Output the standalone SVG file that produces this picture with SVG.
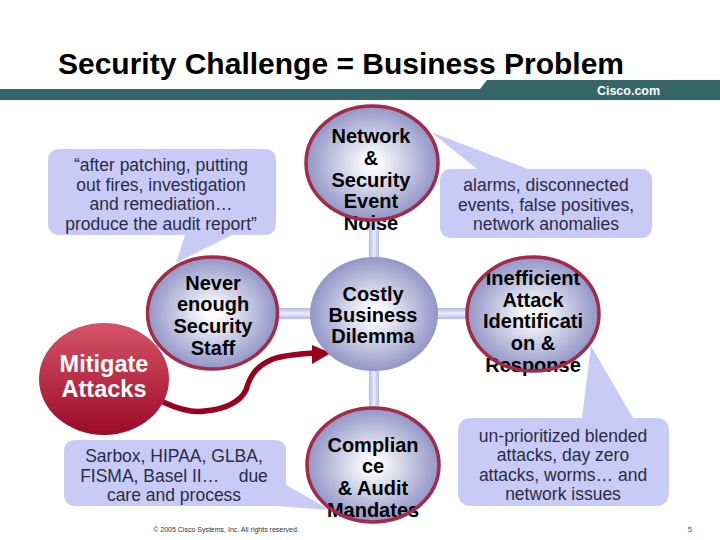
<svg xmlns="http://www.w3.org/2000/svg" width="720" height="540" viewBox="0 0 720 540">
<style>
text{font-family:"Liberation Sans",Arial,sans-serif;text-anchor:middle}
.n{font-size:20px;font-weight:bold;fill:#000}
.c{font-size:17.5px;fill:#2b2b45}
.b{fill:#c8cbf6}
.f{fill:url(#g)}
.r{fill:none;stroke:#a32a4a;stroke-width:3.500}
</style>
<defs>
<radialGradient id="g" cx="50%" cy="50%" r="50%"><stop offset="0.08" stop-color="#ffffff"/><stop offset="1" stop-color="#9196c6"/></radialGradient>
<linearGradient id="m" x1="0" y1="0" x2="0" y2="1"><stop offset="0" stop-color="#d65468"/><stop offset="1" stop-color="#9c0a28"/></linearGradient>
<linearGradient id="h" x1="0" y1="0" x2="0" y2="1"><stop offset="0" stop-color="#b4b8e4"/><stop offset="0.5" stop-color="#eceefc"/><stop offset="1" stop-color="#b4b8e4"/></linearGradient>
<linearGradient id="v" x1="0" y1="0" x2="1" y2="0"><stop offset="0" stop-color="#b4b8e4"/><stop offset="0.5" stop-color="#eceefc"/><stop offset="1" stop-color="#b4b8e4"/></linearGradient>
</defs>
<rect width="720" height="540" fill="#fff"/>
<text x="341" y="74" font-size="30" font-weight="bold" fill="#000" id="title">Security Challenge = Business Problem</text>
<path d="M0 89H480L487 80H720V100H0Z" fill="#366768"/>
<text x="628.500" y="95" font-size="12.500" font-weight="bold" fill="#fff">Cisco.com</text>
<g id="connectors">
<rect x="275" y="308" width="40" height="11" fill="url(#h)"/>
<rect x="435" y="308" width="35" height="11" fill="url(#h)"/>
<rect x="369" y="218" width="10" height="42" fill="url(#v)"/>
<rect x="369" y="368" width="10" height="42" fill="url(#v)"/>
<path d="M163 402C178 409 192 413 205 411C225 409 240 402 246 390C250 376 256 366 273 359C285 355 298 354 314 353" fill="none" stroke="#99001f" stroke-width="5.500"/>
<path d="M312 345L331 353L312 364Z" fill="#99001f"/>
</g>
<g id="callout-audit"><path class="b" d="M60 149H264Q276 149 276 161V223Q276 235 264 235H232L176 263L185 235H60Q48 235 48 223V161Q48 149 60 149Z"/>
<text class="c" x="161" y="171">“after patching, putting</text><text class="c" x="161" y="191">out fires, investigation</text><text class="c" x="161" y="210">and remediation…</text><text class="c" x="161" y="230">produce the audit report”</text></g>
<g id="callout-alarms"><path class="b" d="M452 169H477L431 132L528 169H640Q652 169 652 181V226Q652 238 640 238H452Q440 238 440 226V181Q440 169 452 169Z"/>
<text class="c" x="546" y="191">alarms, disconnected</text><text class="c" x="546" y="211">events, false positives,</text><text class="c" x="546" y="230">network anomalies</text></g>
<g id="callout-blended"><path class="b" d="M472 418H582L591 346L633 418H655Q669 418 669 432V492Q669 506 655 506H472Q458 506 458 492V432Q458 418 472 418Z"/>
<text class="c" x="563" y="442">un-prioritized blended</text><text class="c" x="563" y="461">attacks, day zero</text><text class="c" x="563" y="481">attacks, worms… and</text><text class="c" x="563" y="500">network issues</text></g>
<g id="callout-sarbox"><path class="b" d="M76 440H274Q286 440 286 452V485L330 510L276 506H76Q64 506 64 494V452Q64 440 76 440Z"/>
<text class="c" x="174" y="462">Sarbox, HIPAA, GLBA,</text><text class="c" x="174" y="482" xml:space="preserve">FISMA, Basel II…    due</text><text class="c" x="174" y="501">care and process</text></g>
<g id="node-network"><ellipse class="f" cx="372" cy="163" rx="66" ry="57"/>
<text class="n" x="371" y="143">Network</text><text class="n" x="371" y="165">&amp;</text><text class="n" x="371" y="187">Security</text><text class="n" x="371" y="208">Event</text><text class="n" x="371" y="230">Noise</text>
<ellipse class="r" cx="372" cy="163" rx="66" ry="57"/></g>
<g id="node-costly"><ellipse class="f" cx="374" cy="314" rx="64" ry="57"/>
<text class="n" x="373" y="301">Costly</text><text class="n" x="373" y="322">Business</text><text class="n" x="373" y="343">Dilemma</text></g>
<g id="node-inefficient"><ellipse class="f" cx="533" cy="314" rx="66" ry="57"/>
<text class="n" x="533" y="285">Inefficient</text><text class="n" x="533" y="307">Attack</text><text class="n" x="533" y="328">Identificati</text><text class="n" x="533" y="350">on &amp;</text><text class="n" x="533" y="372">Response</text>
<ellipse class="r" cx="533" cy="314" rx="66" ry="57"/></g>
<g id="node-compliance"><ellipse class="f" cx="373" cy="465" rx="66" ry="57"/>
<text class="n" x="373" y="452">Complian</text><text class="n" x="373" y="473">ce</text><text class="n" x="373" y="495">&amp; Audit</text><text class="n" x="373" y="517">Mandates</text>
<ellipse class="r" cx="373" cy="465" rx="66" ry="57"/></g>
<g id="node-staff"><ellipse class="f" cx="212.500" cy="313" rx="65" ry="56"/>
<text class="n" x="213" y="290">Never</text><text class="n" x="213" y="311">enough</text><text class="n" x="213" y="333">Security</text><text class="n" x="213" y="355">Staff</text>
<ellipse class="r" cx="212.500" cy="313" rx="65" ry="56"/></g>
<g id="node-mitigate"><ellipse cx="104" cy="379" rx="65" ry="56" fill="url(#m)"/>
<text x="104" y="372" font-size="23.500" font-weight="bold" fill="#fff">Mitigate</text><text x="104" y="397" font-size="23.500" font-weight="bold" fill="#fff">Attacks</text></g>
<text x="226" y="532" font-size="7" fill="#333">© 2005 Cisco Systems, Inc. All rights reserved.</text>
<text x="690" y="532" font-size="8" fill="#555">5</text>
</svg>
